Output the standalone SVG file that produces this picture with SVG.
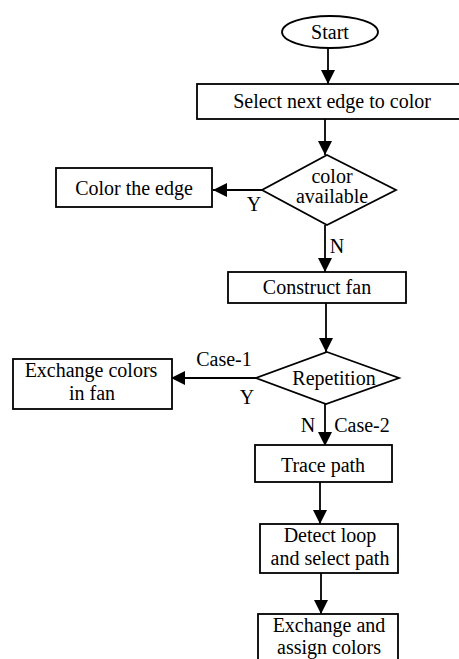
<svg xmlns="http://www.w3.org/2000/svg" width="459" height="659" viewBox="0 0 459 659">
<style>
.s{fill:#fff;stroke:#000;stroke-width:1.8}
.t{font-family:"Liberation Serif","Times New Roman",serif;font-size:20px;fill:#000;text-anchor:middle}
.c{fill:none;stroke:#000;stroke-width:1.8}
</style>
<defs>
<marker id="ah" markerUnits="userSpaceOnUse" markerWidth="14" markerHeight="14" refX="14" refY="7" orient="auto" viewBox="0 0 14 14">
<path d="M0,0 L14,7 L0,14 z" fill="#000"/>
</marker>
</defs>
<rect width="459" height="659" fill="#fff"/>
<g id="connectors">
<line class="c" x1="328" y1="48" x2="328" y2="84" marker-end="url(#ah)"/>
<line class="c" x1="325" y1="119" x2="325" y2="155" marker-end="url(#ah)"/>
<line class="c" x1="262" y1="190" x2="213" y2="190" marker-end="url(#ah)"/>
<line class="c" x1="325" y1="225" x2="325" y2="272" marker-end="url(#ah)"/>
<line class="c" x1="326" y1="303" x2="326" y2="352" marker-end="url(#ah)"/>
<line class="c" x1="256" y1="378" x2="171" y2="378" marker-end="url(#ah)"/>
<line class="c" x1="325" y1="404" x2="325" y2="446" marker-end="url(#ah)"/>
<line class="c" x1="320" y1="482" x2="320" y2="524" marker-end="url(#ah)"/>
<line class="c" x1="321" y1="573" x2="321" y2="614" marker-end="url(#ah)"/>
<text class="t" x="254" y="211">Y</text>
<text class="t" x="337" y="253">N</text>
<text class="t" x="224" y="366">Case-1</text>
<text class="t" x="247" y="404">Y</text>
<text class="t" x="308" y="432">N</text>
<text class="t" x="362" y="432">Case-2</text>
</g>
<g id="start">
<ellipse class="s" cx="330" cy="32" rx="48" ry="16"/>
<text class="t" x="330" y="39">Start</text>
</g>
<g id="select">
<rect class="s" x="197" y="84" width="264" height="35"/>
<text class="t" x="332" y="108">Select next edge to color</text>
</g>
<g id="color-available">
<polygon class="s" points="327,155 396,190 327,225 262,190"/>
<text class="t" x="332" y="183">color</text>
<text class="t" x="332" y="203">available</text>
</g>
<g id="color-edge">
<rect class="s" x="56" y="168" width="156" height="39"/>
<text class="t" x="134" y="195">Color the edge</text>
</g>
<g id="construct-fan">
<rect class="s" x="228" y="272" width="178" height="31"/>
<text class="t" x="317" y="294">Construct fan</text>
</g>
<g id="repetition">
<polygon class="s" points="327,352 399,378 326,404 256,378"/>
<text class="t" x="334" y="385">Repetition</text>
</g>
<g id="exchange-fan">
<rect class="s" x="13" y="359" width="159" height="50"/>
<text class="t" x="91" y="377">Exchange colors</text>
<text class="t" x="92" y="400">in fan</text>
</g>
<g id="trace-path">
<rect class="s" x="255" y="445" width="137" height="37"/>
<text class="t" x="323" y="472">Trace path</text>
</g>
<g id="detect-loop">
<rect class="s" x="260" y="524" width="138" height="49"/>
<text class="t" x="330" y="542">Detect loop</text>
<text class="t" x="330" y="565">and select path</text>
</g>
<g id="exchange-assign">
<rect class="s" x="258" y="614" width="140" height="60"/>
<text class="t" x="329" y="632">Exchange and</text>
<text class="t" x="329" y="654">assign colors</text>
</g>
</svg>
